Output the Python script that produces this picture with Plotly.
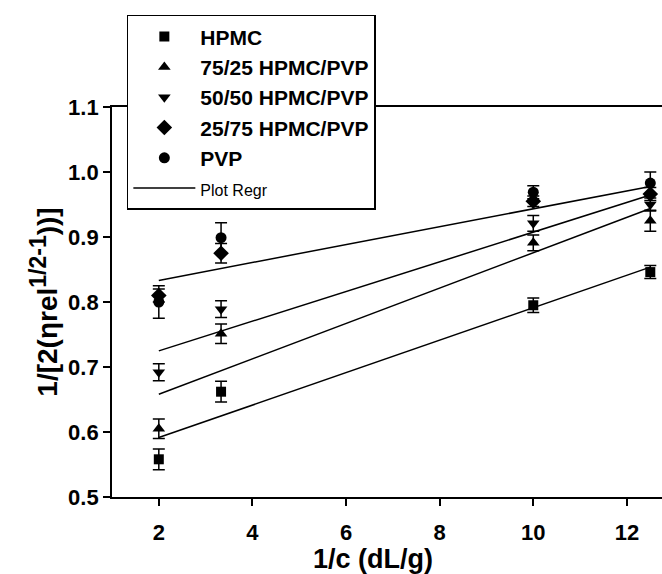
import numpy as np
import plotly.graph_objects as go

# 1/c values (dL/g)
inv_conc = [2, 3.33, 10, 12.5]

series_names = ["HPMC", "75/25 HPMC/PVP", "50/50 HPMC/PVP", "25/75 HPMC/PVP", "PVP"]
hpmc = [0.558, 0.662, 0.795, 0.846]
hpmc_err = [0.016, 0.016, 0.011, 0.010]
h75 = [0.605, 0.751, 0.891, 0.925]
h75_err = [0.015, 0.015, 0.012, 0.016]
h50 = [0.692, 0.789, 0.921, 0.950]
h50_err = [0.013, 0.013, 0.012, 0.010]
h25 = [0.810, 0.875, 0.955, 0.966]
h25_err = [0.010, 0.015, 0.008, 0.010]
pvp = [0.800, 0.899, 0.969, 0.983]
pvp_err = [0.025, 0.023, 0.010, 0.017]

values = [hpmc, h75, h50, h25, pvp]
errors = [hpmc_err, h75_err, h50_err, h25_err, pvp_err]
symbols = ["square", "triangle-up", "triangle-down", "diamond", "circle"]
sizes = [10, 11, 11, 12, 11]
fitted = [True, True, True, True, False]

x_ticks = [2, 4, 6, 8, 10, 12]
y_ticks = [0.5, 0.6, 0.7, 0.8, 0.9, 1.0, 1.1]

FONT = "Arial, Liberation Sans"

fig = go.Figure()

for i, (name, y, e, sym, sz) in enumerate(zip(series_names, values, errors, symbols, sizes)):
    fig.add_trace(go.Scatter(
        x=inv_conc, y=y, mode="markers", name=f"<b>{name}</b>",
        legendgroup=f"g{i}",
        marker=dict(symbol=sym, size=sz, color="black"),
        error_y=dict(type="data", array=e, visible=True, color="black",
                     thickness=1.5, width=6),
    ))

# least-squares regression lines
first = True
for i, (y, fit) in enumerate(zip(values, fitted)):
    if not fit:
        continue
    slope, icpt = np.polyfit(inv_conc, y, 1)
    xs = np.array([min(inv_conc), max(inv_conc)])
    fig.add_trace(go.Scatter(
        x=xs, y=slope * xs + icpt, mode="lines",
        name="<span style='font-size:16px'>Plot Regr</span>",
        legendgroup="regr", showlegend=first,
        line=dict(color="black", width=1.5),
    ))
    first = False

axis_font = dict(family=FONT, size=22, color="black", weight="bold")

fig.update_layout(
    width=662, height=574,
    margin=dict(l=112, r=0, t=107, b=77),
    paper_bgcolor="white", plot_bgcolor="white",
    showlegend=True,
    legend=dict(
        x=0.027, y=1.236, xanchor="left", yanchor="top",
        bgcolor="white", bordercolor="black", borderwidth=1.5,
        font=dict(family=FONT, size=21, color="black"),
        tracegroupgap=0, itemwidth=62,
    ),
    xaxis=dict(
        range=[1, 12.75], tickvals=x_ticks, ticks="outside", ticklen=7,
        tickwidth=1.5, tickcolor="black", showline=True, linecolor="black",
        linewidth=1.8, mirror=True, showgrid=False, zeroline=False,
        tickfont=axis_font, ticklabelstandoff=8,
    ),
    yaxis=dict(
        range=[0.5, 1.1], tickvals=y_ticks, tickformat=".1f", ticks="outside",
        ticklen=7, tickwidth=1.5, tickcolor="black", showline=True,
        linecolor="black", linewidth=1.8, showgrid=False, zeroline=False,
        tickfont=axis_font, ticksuffix="\u2009\u2009",
        title=dict(text="1/[2(ηrel<sup><span style='font-size:23px'>1/2-1</span></sup>))]",
                   font=dict(family=FONT, size=28, color="black", weight="bold"),
                   standoff=2),
    ),
    annotations=[dict(
        text="<b>1/c (dL/g)</b>", xref="paper", yref="paper",
        x=0.4745, y=-0.158, xanchor="center", yanchor="middle",
        showarrow=False, font=dict(family=FONT, size=27, color="black"),
    )],
)

fig.write_html("out.html")
